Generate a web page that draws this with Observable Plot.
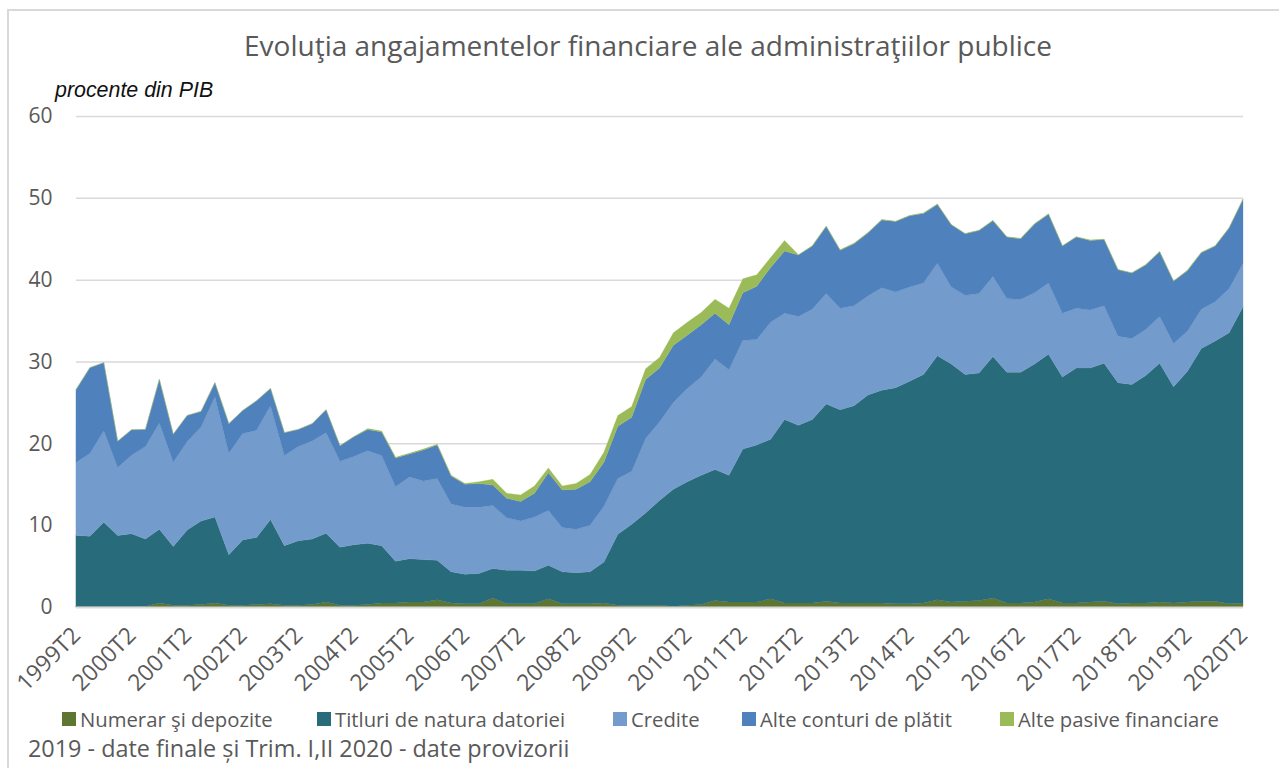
<!DOCTYPE html>
<html><head><meta charset="utf-8">
<script src="https://cdn.jsdelivr.net/npm/d3@7"></script>
<script src="https://cdn.jsdelivr.net/npm/@observablehq/plot@0.6"></script>
<style>
body{margin:0;background:#fff;}
#wrap{position:relative;width:1279px;height:768px;overflow:hidden;font-family:"Open Sans",sans-serif;color:#595959;}
#frame{position:absolute;left:7px;top:9px;width:1400px;height:900px;border-left:2px solid #d9d9d9;border-top:2px solid #d9d9d9;}
#title{position:absolute;left:0;top:27px;width:1296px;text-align:center;font-size:28px;line-height:36px;white-space:nowrap;}
#unit{position:absolute;left:55px;top:78px;font-family:"Liberation Sans",Arial,sans-serif;font-style:italic;font-size:21.4px;line-height:24px;color:#111;white-space:nowrap;}
#chart{position:absolute;left:0;top:100px;}
.lg{position:absolute;top:707px;height:24px;font-size:20.3px;line-height:24px;white-space:nowrap;}
.sw{position:absolute;left:0;top:5px;width:14px;height:14px;}
.lt{position:absolute;left:18px;top:0;}
#caption{position:absolute;left:28px;top:734px;font-size:23.4px;line-height:28px;white-space:nowrap;}
</style></head><body>
<div id="wrap">
 <div id="frame"></div>
 <div id="title">Evoluţia angajamentelor financiare ale administraţiilor publice</div>
 <div id="unit">procente din PIB</div>
 <div id="chart"></div>
 <div id="legend"></div>
 <div id="caption">2019 - date finale și Trim. I,II 2020 - date provizorii</div>
</div>
<script>
const seriesNames = ["Numerar şi depozite","Titluri de natura datoriei","Credite","Alte conturi de plătit","Alte pasive financiare"];
const seriesColors = ["#5f7632","#286b7b","#739bcb","#4f81bd","#9bbb59"];
const tickLabels = ["1999T2","2000T2","2001T2","2002T2","2003T2","2004T2","2005T2","2006T2","2007T2","2008T2","2009T2","2010T2","2011T2","2012T2","2013T2","2014T2","2015T2","2016T2","2017T2","2018T2","2019T2","2020T2"];
const yTicks = [0,10,20,30,40,50,60];

const numerar = [0.05,0.05,0.05,0.05,0.05,0.1,0.5,0.2,0.2,0.3,0.5,0.2,0.2,0.3,0.4,0.2,0.2,0.3,0.6,0.2,0.2,0.3,0.5,0.5,0.6,0.6,0.9,0.5,0.4,0.4,1.1,0.4,0.4,0.4,1.0,0.4,0.4,0.4,0.5,0.2,0.2,0.2,0.2,0.1,0.2,0.3,0.8,0.6,0.6,0.6,1.0,0.5,0.5,0.5,0.7,0.5,0.5,0.5,0.5,0.4,0.4,0.5,0.9,0.6,0.7,0.8,1.1,0.5,0.5,0.6,1.0,0.5,0.5,0.6,0.7,0.4,0.5,0.5,0.6,0.5,0.6,0.7,0.7,0.4,0.5];
const titluri = [8.7,8.6,10.3,8.7,8.9,8.2,9.0,7.2,9.2,10.2,10.5,6.2,8.0,8.2,10.3,7.3,7.9,8.0,8.4,7.1,7.4,7.5,7.0,5.1,5.3,5.2,4.8,3.8,3.6,3.7,3.6,4.1,4.1,4.0,4.1,3.9,3.8,3.9,5.0,8.7,9.9,11.3,12.8,14.3,15.1,15.8,16.0,15.5,18.7,19.2,19.5,22.4,21.7,22.4,24.1,23.6,24.1,25.4,26.0,26.4,27.2,27.9,29.8,29.1,27.7,27.8,29.5,28.2,28.2,29.1,29.9,27.6,28.7,28.6,29.1,27.0,26.7,27.8,29.2,26.4,28.2,30.9,31.8,33.1,36.2];
const credite = [8.9,10.1,11.2,8.3,9.6,11.3,13.0,10.3,10.8,11.5,14.7,12.4,13.0,13.1,13.9,11.0,11.5,12.0,12.3,10.5,10.8,11.3,11.0,9.1,10.0,9.6,10.0,8.3,8.2,8.1,7.7,6.4,6.0,6.6,6.7,5.4,5.3,5.7,6.8,6.8,6.5,9.1,9.6,10.6,11.4,12.0,13.5,12.9,13.3,12.9,14.3,13.0,13.3,13.5,13.5,12.4,12.2,12.1,12.5,11.7,11.5,11.2,11.3,9.4,9.7,9.7,9.8,9.0,8.9,8.7,8.7,7.8,7.3,7.1,7.0,5.7,5.6,5.6,5.7,5.3,4.9,4.8,4.8,5.4,5.3];
const alteConturi = [8.9,10.5,8.3,3.2,3.1,2.1,5.3,3.4,3.2,1.9,1.7,3.6,2.8,3.6,2.1,2.8,2.1,2.1,2.8,1.9,2.4,2.6,2.9,3.5,2.8,3.8,4.1,3.4,2.8,2.9,2.5,2.4,2.4,2.9,4.6,4.6,4.9,5.3,5.4,6.4,6.6,7.2,6.6,7.0,6.5,6.4,5.6,5.5,5.8,6.5,6.7,7.6,7.5,7.7,8.2,7.1,7.6,7.7,8.3,8.6,8.7,8.5,7.2,7.6,7.5,7.7,6.8,7.5,7.4,8.4,8.4,8.2,8.7,8.5,8.1,8.1,8.0,7.9,7.9,7.6,7.4,6.9,6.8,7.4,7.8];
const altePasive = [0,0,0,0,0,0,0,0,0,0,0,0,0,0,0,0,0,0,0,0,0,0.1,0.1,0.1,0.1,0.1,0.1,0.1,0.1,0.2,0.7,0.6,0.8,0.9,0.6,0.5,0.7,0.9,1.2,1.3,1.3,1.3,1.3,1.5,1.6,1.5,1.7,2.0,1.7,1.4,1.2,1.3,0.05,0.05,0.05,0.05,0.05,0.05,0.05,0.05,0.05,0.05,0.05,0.05,0.05,0.05,0.05,0.05,0.05,0.05,0.05,0.05,0.05,0.05,0.05,0.05,0.05,0.05,0.05,0.05,0.05,0.05,0.05,0.05,0.05];

const seriesData = [numerar, titluri, credite, alteConturi, altePasive];
const rows = [];
seriesData.forEach((arr, k) => arr.forEach((v, i) => rows.push({i, v, s: seriesNames[k]})));
const tickIdx = tickLabels.map((_, k) => k * 4);

const chart = Plot.plot({
  width: 1279, height: 600,
  marginTop: 16, marginBottom: 93, marginLeft: 76, marginRight: 36,
  x: {type: "linear", domain: [0, 84], axis: null},
  y: {domain: [0, 60], axis: null},
  color: {domain: seriesNames, range: seriesColors},
  style: {fontFamily: "'Open Sans', sans-serif", color: "#595959", background: "transparent", overflow: "visible"},
  marks: [
    Plot.ruleY(yTicks.filter(d => d > 0), {stroke: "#d9d9d9", strokeWidth: 1.5}),
    Plot.areaY(rows, {x: "i", y: "v", z: "s", fill: "s", stroke: "s", strokeWidth: 0.3}),
    Plot.ruleY([0], {stroke: "#d9d9d9", strokeWidth: 2}),
    Plot.axisY(yTicks, {tickSize: 0, tickPadding: 24, fontSize: 21, fill: "#595959", label: null}),
    Plot.axisX(tickIdx, {tickFormat: i => tickLabels[i / 4], tickRotate: -45, tickSize: 0, tickPadding: 24, fontSize: 23, fill: "#595959", label: null})
  ]
});
document.getElementById("chart").appendChild(chart);

const swX = [62, 317, 613, 742, 1000];
const lg = document.getElementById("legend");
seriesNames.forEach((n, k) => {
  const d = document.createElement("div");
  d.className = "lg";
  d.style.left = swX[k] + "px";
  d.innerHTML = `<div class="sw" style="background:${seriesColors[k]}"></div><div class="lt">${n}</div>`;
  lg.appendChild(d);
});
</script>
</body></html>
